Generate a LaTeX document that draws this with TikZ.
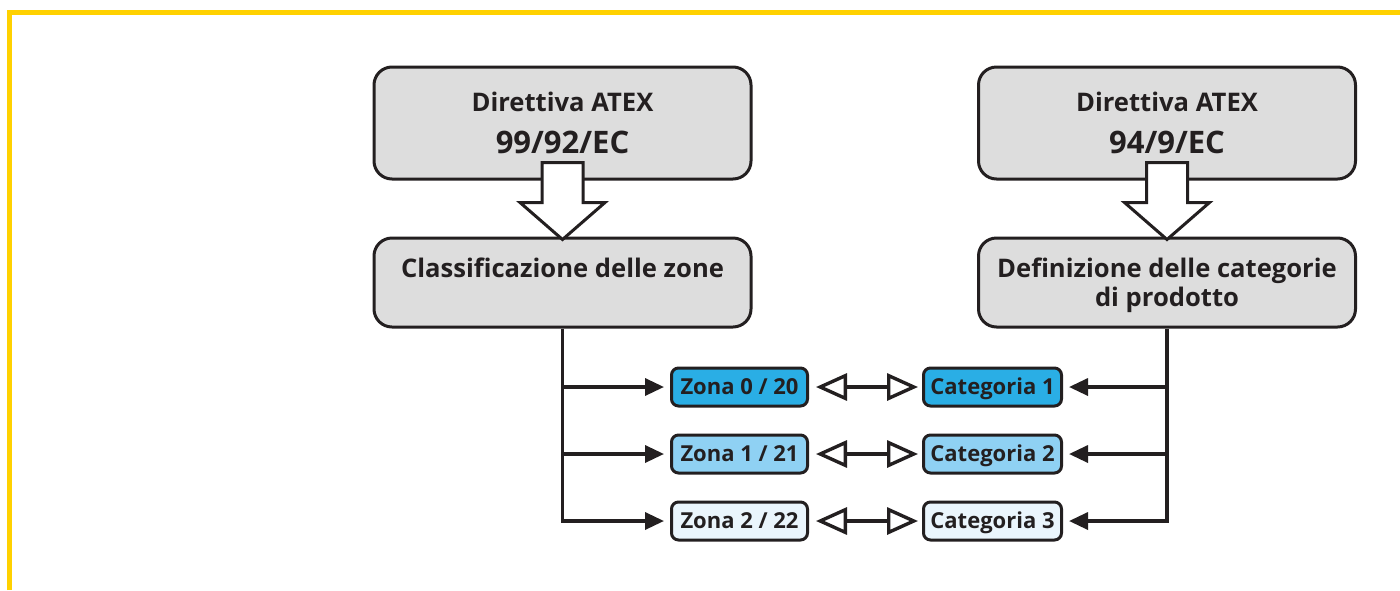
\documentclass[tikz,border=0pt]{standalone}
\usepackage{fontspec}
\setmainfont{Open Sans}
\usetikzlibrary{arrows.meta,calc}

\definecolor{ink}{HTML}{231F20}
\definecolor{framegold}{HTML}{FFD100}
\definecolor{boxgray}{HTML}{DDDDDD}
\definecolor{zoneA}{HTML}{2AAEE5}
\definecolor{zoneB}{HTML}{8FD1F3}
\definecolor{zoneC}{HTML}{EAF5FC}

\begin{document}
\begin{tikzpicture}[x=1pt,y=-1pt,
  bigbox/.style={draw=ink, line width=3pt, fill=boxgray, rounded corners=18pt,
    minimum width=377pt, inner sep=0pt},
  bigtext/.style={font=\bfseries\fontsize{25.6}{29}\selectfont, text=ink, anchor=base, inner sep=0pt},
  codetext/.style={font=\bfseries\fontsize{31}{35}\selectfont, text=ink, anchor=base, inner sep=0pt},
  smallbox/.style={draw=ink, line width=3pt, rounded corners=7pt, minimum width=136pt,
    minimum height=38pt, inner sep=0pt, text height=17pt, text depth=3pt,
    text=ink, font=\bfseries\fontsize{22}{25}\selectfont},
  blockarrow/.style={draw=ink, line width=3pt, fill=white, line join=miter},
  conn/.style={draw=ink, line width=3.4pt, -{Triangle[length=19pt,width=17pt]}, shorten >=6pt},
  pair/.style={draw=ink, line width=3.4pt,
    {Triangle[length=31pt,width=27pt,fill=white]}-{Triangle[length=31pt,width=27pt,fill=white]},
    shorten <=7pt, shorten >=4pt}
]
\useasboundingbox (0,0) rectangle (1400,590);

% gold frame along the top and left edges
\draw[framegold, line width=5pt] (9.5,590) -- (9.5,12.5) -- (1400,12.5);

% directive boxes
\node[bigbox, minimum height=112pt] (d1) at (562.5,123) {};
\node[bigbox, minimum height=89pt] (c1) at (562.5,282.5) {};
\node[bigbox, minimum height=112pt] (d2) at (1167,123) {};
\node[bigbox, minimum height=89pt] (c2) at (1167,282.5) {};

\node[bigtext]  (d1a) at (562.5,111) {Direttiva ATEX};
\node[codetext] (d1b) at (562.5,153) {99/92/EC};
\node[bigtext]  (d2a) at (1167,111) {Direttiva ATEX};
\node[codetext] (d2b) at (1167,153) {94/9/EC};
\node[bigtext]  (c1a) at (562.5,277) {Classificazione delle zone};
\node[bigtext]  (c2a) at (1167,277) {Definizione delle categorie};
\node[bigtext]  (c2b) at (1167,306) {di prodotto};

% hollow block arrows from each directive to its classification
\foreach \s/\t in {d1/c1, d2/c2}{
  \draw[blockarrow]
    ($(\s.south)+(-20.5,-18)$) -- ($(\s.south)+(20.5,-18)$) --
    ($(\s.south)+(20.5,22)$) -- ($(\s.south)+(42.5,22)$) --
    ($(\t.north)+(0,3)$) --
    ($(\s.south)+(-42.5,22)$) -- ($(\s.south)+(-20.5,22)$) -- cycle;
}

% zones and categories
\node[smallbox, fill=zoneA] (z1) at (739.5,387) {Zona 0 / 20};
\node[smallbox, fill=zoneB] (z2) at (739.5,454) {Zona 1 / 21};
\node[smallbox, fill=zoneC] (z3) at (739.5,521) {Zona 2 / 22};
\node[smallbox, fill=zoneA, minimum width=138pt] (k1) at (992.5,387) {Categoria 1};
\node[smallbox, fill=zoneB, minimum width=138pt] (k2) at (992.5,454) {Categoria 2};
\node[smallbox, fill=zoneC, minimum width=138pt] (k3) at (992.5,521) {Categoria 3};

% branching connectors
\draw[conn] (c1.south) |- (z3.west);
\draw[conn] (c1.south |- z1.west) -- (z1.west);
\draw[conn] (c1.south |- z2.west) -- (z2.west);
\draw[conn] (c2.south) |- (k3.east);
\draw[conn] (c2.south |- k1.east) -- (k1.east);
\draw[conn] (c2.south |- k2.east) -- (k2.east);

% zone <-> category correspondence
\draw[pair] (z1.east) -- (k1.west);
\draw[pair] (z2.east) -- (k2.west);
\draw[pair] (z3.east) -- (k3.west);
\end{tikzpicture}
\end{document}
